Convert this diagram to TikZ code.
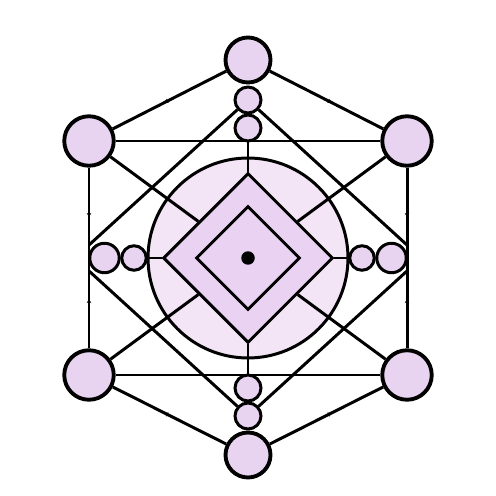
\documentclass[tikz,border=0pt]{standalone}
\usetikzlibrary{shapes.geometric,decorations.markings,arrows.meta}
\definecolor{lilac}{HTML}{E8D4F0}
\definecolor{palelilac}{HTML}{F3E5F6}
\definecolor{midlilac}{HTML}{EAD2F2}
\begin{document}
\begin{tikzpicture}[x=0.02cm, y=-0.02cm, line width=1.7pt,
    big/.style = {draw, circle, fill=lilac, line width=2.2pt, minimum size=0.9cm, inner sep=0pt},
    corner/.style = {big, minimum size=0.99cm},
    small/.style = {draw, circle, fill=lilac, minimum size=0.52cm, inner sep=0pt},
    side/.style = {small, minimum size=0.59cm},
    gem/.style = {draw, diamond, aspect=1, fill=midlilac, inner sep=0pt},
    midtip/.style = {postaction={decorate}, decoration={markings,
        mark=at position 0.55 with {\arrow{Stealth[length=2.5pt,width=2.5pt]}}}}]
    \useasboundingbox (0,0) rectangle (496,496);

    % centre piece
    \node[draw, circle, fill=palelilac, minimum size=4cm, inner sep=0pt] (ring) at (248,258) {};
    \node[gem, minimum width=3.4cm, minimum height=3.4cm] (outer) at (248,258) {};
    \node[gem, minimum width=2.08cm, minimum height=2.08cm] (inner) at (248,258) {};
    \node[circle, fill=black, minimum size=0.27cm, inner sep=0pt] (dot) at (248,258) {};

    % outer ring of circles
    \node[big] (top) at (248,60) {};
    \node[big] (bot) at (248,455) {};
    \node[corner] (ul) at (89,141) {};
    \node[corner] (ur) at (407,141) {};
    \node[corner] (ll) at (89,375) {};
    \node[corner] (lr) at (407,375) {};

    % small circles
    \node[small] (t1) at (248,100) {};
    \node[small] (t2) at (248,128) {};
    \node[small] (b1) at (248,388) {};
    \node[small] (b2) at (248,416) {};
    \node[side] (l1) at (104.5,258) {};
    \node[small, minimum size=0.49cm] (l2) at (134,258) {};
    \node[small, minimum size=0.49cm] (r2) at (362,258) {};
    \node[side] (r1) at (391.5,258) {};

    \coordinate (lm) at (89,258);
    \coordinate (rm) at (407,258);
    \coordinate (lw1) at (89,245);
    \coordinate (lw2) at (89,271);
    \coordinate (rw1) at (407,245);
    \coordinate (rw2) at (407,271);

    % frame
    \draw[midtip] (top) -- (ul);
    \draw[midtip] (top) -- (ur);
    \draw[midtip] (bot) -- (ll);
    \draw[midtip] (bot) -- (lr);
    \draw (ul) -- (ur);
    \draw (ll) -- (lr);
    \draw[midtip] (ul) -- (lm);
    \draw[midtip] (ll) -- (lm);
    \draw[midtip] (ur) -- (rm);
    \draw[midtip] (lr) -- (rm);

    % crossing diagonals
    \draw (t1) -- (lw1);
    \draw (t1) -- (rw1);
    \draw (b2) -- (lw2);
    \draw (b2) -- (rw2);

    % spokes into the diamond
    \draw (ul) -- (outer);
    \draw (ur) -- (outer);
    \draw (ll) -- (outer);
    \draw (lr) -- (outer);
    \draw (t2) -- (outer);
    \draw (b1) -- (outer);
    \draw (l2) -- (outer);
    \draw (r2) -- (outer);
\end{tikzpicture}
\end{document}
